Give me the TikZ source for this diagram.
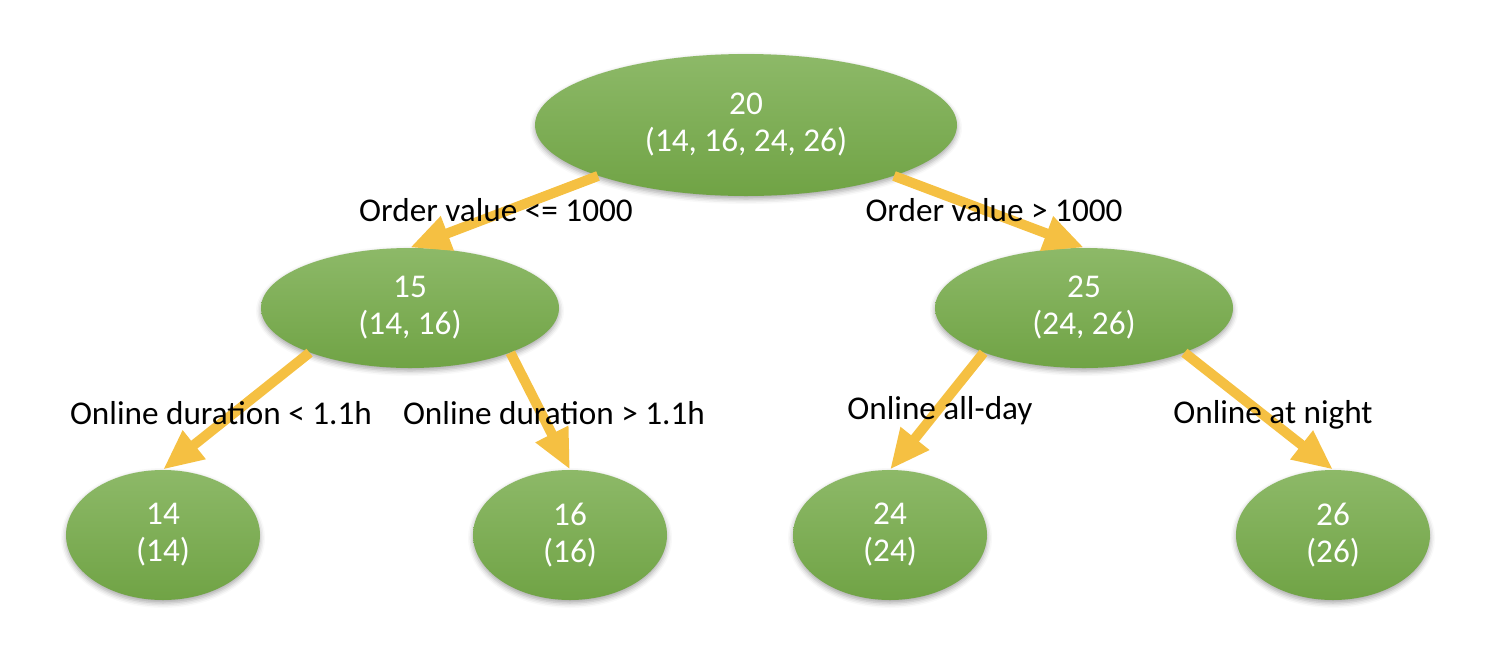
\documentclass[tikz,border=0pt]{standalone}
\usepackage{fontspec}
\setmainfont{Carlito}
\definecolor{leafgreen}{RGB}{112,163,69}
\definecolor{leafgreenlight}{RGB}{141,185,104}
\definecolor{branchyellow}{RGB}{245,192,66}
\usetikzlibrary{shapes.geometric, arrows.meta, shadows.blur}

\begin{document}
\begin{tikzpicture}[x=0.5pt, y=-0.5pt,
  treenode/.style={ellipse, inner sep=0pt, top color=leafgreenlight, bottom color=leafgreen, draw=none, text=white, align=center, font=\fontsize{16.6}{18.5}\selectfont, blur shadow={shadow xshift=0pt, shadow yshift=-1.5pt, shadow blur radius=2.5pt, shadow opacity=35}},
  rootnode/.style={treenode, minimum width=211pt, minimum height=71pt},
  midnode/.style={treenode, minimum width=149pt, minimum height=60pt},
  leafnode/.style={treenode, minimum width=97pt, minimum height=65pt},
  branch/.style={draw=branchyellow, line width=5pt, -{Triangle[length=20pt, width=17pt]}},
  cond/.style={font=\fontsize{16.6}{18.5}\selectfont, text=black, inner sep=0pt}]
  \useasboundingbox (0,0) rectangle (1510,660);

  \node[rootnode] (root) at (746,125) {20\\(14, 16, 24, 26)};
  \node[midnode] (n15) at (410,308) {15\\(14, 16)};
  \node[midnode] (n25) at (1084,308) {25\\(24, 26)};
  \node[leafnode] (n14) at (163,535) {14\\(14)};
  \node[leafnode] (n16) at (570,535) {16\\(16)};
  \node[leafnode] (n24) at (890,535) {24\\(24)};
  \node[leafnode] (n26) at (1333,535) {26\\(26)};

  \draw[branch] (root.199) -- (n15.north);
  \draw[branch] (root.341) -- (n25.north);
  \draw[branch] (n15.204) -- (n14.north);
  \draw[branch] (n15.336) -- (n16.north);
  \draw[branch] (n25.204) -- (n24.north);
  \draw[branch] (n25.336) -- (n26.north);

  \node[cond] (c1) at (496,210) {Order value <= 1000};
  \node[cond] (c2) at (994,210) {Order value > 1000};
  \node[cond] (c3) at (221,413) {Online duration < 1.1h};
  \node[cond] (c4) at (554,413) {Online duration > 1.1h};
  \node[cond] (c5) at (940,411) {Online all-day};
  \node[cond] (c6) at (1273,415) {Online at night};
\end{tikzpicture}
\end{document}
